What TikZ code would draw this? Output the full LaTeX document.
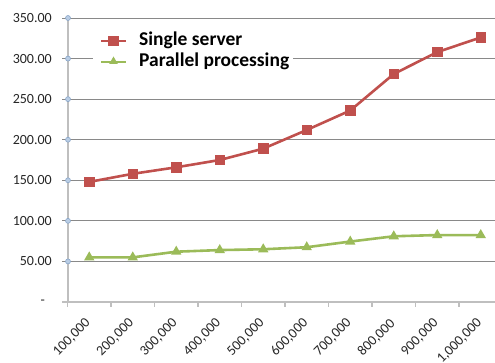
\documentclass[tikz,border=0pt]{standalone}
\usepackage{fontspec}
\setmainfont{Carlito}
\usetikzlibrary{shapes.geometric,backgrounds}
\definecolor{serred}{HTML}{C0504D}
\definecolor{sergreen}{HTML}{9BBB59}
\definecolor{gridgray}{HTML}{898989}
\definecolor{axisgray}{HTML}{BFBFBF}
\definecolor{tickfill}{HTML}{B9CDE5}
\definecolor{tickdraw}{HTML}{8AA6C8}
\begin{document}
\begin{tikzpicture}[x=1pt,y=1pt,
  gridline/.style={draw=gridgray,line width=0.9pt},
  axisline/.style={draw=axisgray,line width=1.4pt},
  redline/.style={draw=serred,line width=2.6pt,line join=round},
  greenline/.style={draw=sergreen,line width=2.6pt,line join=round},
  sqmark/.style={rectangle,fill=serred,minimum size=10.5pt,inner sep=0pt},
  trimark/.style={regular polygon,regular polygon sides=3,fill=sergreen,minimum size=12pt,inner sep=0pt},
  ytickmark/.style={circle,fill=tickfill,draw=tickdraw,line width=0.6pt,minimum size=5pt,inner sep=0pt},
  ylab/.style={anchor=east,inner sep=0pt,font=\fontsize{14}{14}\selectfont,text=black!85},
  xlab/.style={anchor=north east,inner sep=0pt,rotate=45,font=\fontsize{14}{14}\selectfont,text=black!85},
  legtext/.style={anchor=base west,inner sep=0pt,font=\fontsize{19.5}{19.5}\selectfont\bfseries}]
\useasboundingbox (0,0) rectangle (495,362);

% y axis: labels, tick circles
\foreach \v/\t in {50/50.00,100/100.00,150/150.00,200/200.00,250/250.00,300/300.00,350/350.00} {
  \node[ytickmark] (yt\v) at (68,{60+0.8114*\v}) {};
  \node[ylab] (yl\v) at (52,{60+0.8114*\v}) {\t};
}
\node[ylab] (yl0) at (45,60) {-};

% x axis category labels
\foreach \k/\t in {1/{100,000},2/{200,000},3/{300,000},4/{400,000},5/{500,000},6/{600,000},7/{700,000},8/{800,000},9/{900,000},10/{1,000,000}} {
  \node[xlab] (xl\k) at ({45.75+43.5*\k-5},45) {\t};
}

% data markers
\foreach \k/\v in {1/148,2/158,3/166,4/175,5/189,6/212,7/236,8/281,9/308,10/326}
  \node[sqmark] (s\k) at ({45.75+43.5*\k},{60+0.8114*\v}) {};
\foreach \k/\v in {1/55,2/55,3/62,4/64,5/65,6/67.5,7/74.5,8/81,9/82.5,10/82.5}
  \node[trimark] (p\k) at ({45.75+43.5*\k},{60+0.8114*\v}) {};

\begin{scope}[on background layer]
  % gridlines
  \foreach \v in {50,100,...,350}
    \draw[gridline] (62,{60+0.8114*\v}) -- (495,{60+0.8114*\v});
  % axes
  \draw[axisline] (68,60) -- (68,{60+0.8114*350});
  \draw[axisline] (62,60) -- (495,60);
  \foreach \k in {0,...,9}
    \draw[axisline] ({67.5+43.5*\k},60) -- ({67.5+43.5*\k},55.5);
  % series lines
  \draw[redline] (s1.center) -- (s2.center) -- (s3.center) -- (s4.center) -- (s5.center)
    -- (s6.center) -- (s7.center) -- (s8.center) -- (s9.center) -- (s10.center);
  \draw[greenline] (p1.center) -- (p2.center) -- (p3.center) -- (p4.center) -- (p5.center)
    -- (p6.center) -- (p7.center) -- (p8.center) -- (p9.center) -- (p10.center);
\end{scope}

% legend
\node[fill=white,minimum width=200pt,minimum height=48pt,inner sep=0pt] (legend) at (193,310) {};
\coordinate (lra) at (101,321);
\coordinate (lrb) at (126,321);
\coordinate (lga) at (101,300);
\coordinate (lgb) at (126,300);
\draw[redline] (lra) -- (lrb);
\draw[greenline] (lga) -- (lgb);
\node[sqmark] (lrm) at (113.5,321) {};
\node[trimark,minimum size=10pt] (lgm) at (113.5,300.5) {};
\node[legtext] (lrt) at (139,316.5) {Single server};
\node[legtext] (lgt) at (139,295.5) {Parallel processing};
\end{tikzpicture}
\end{document}
